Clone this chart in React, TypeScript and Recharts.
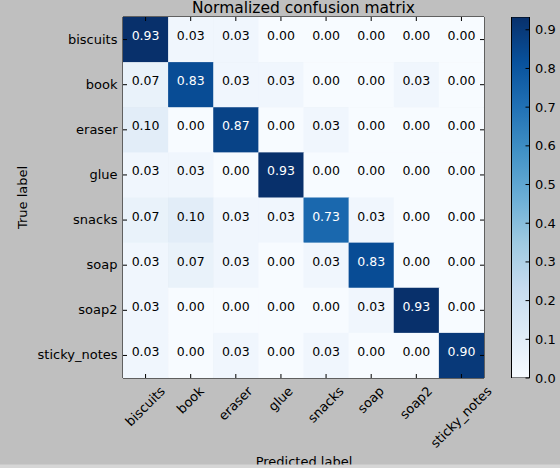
import React from "react";
import { ScatterChart, Scatter, XAxis, YAxis, ReferenceArea, BarChart, Bar } from "recharts";

// class names (rows = true label, columns = predicted label)
const classes = ["biscuits", "book", "eraser", "glue", "snacks", "soap", "soap2", "sticky_notes"];

// normalized rows of the confusion matrix
const biscuits = [0.933, 0.033, 0.033, 0.0, 0.0, 0.0, 0.0, 0.0];
const book = [0.067, 0.833, 0.033, 0.033, 0.0, 0.0, 0.033, 0.0];
const eraser = [0.1, 0.0, 0.867, 0.0, 0.033, 0.0, 0.0, 0.0];
const glue = [0.033, 0.033, 0.0, 0.933, 0.0, 0.0, 0.0, 0.0];
const snacks = [0.067, 0.1, 0.033, 0.033, 0.733, 0.033, 0.0, 0.0];
const soap = [0.033, 0.067, 0.033, 0.0, 0.033, 0.833, 0.0, 0.0];
const soap2 = [0.033, 0.0, 0.0, 0.0, 0.0, 0.033, 0.933, 0.0];
const stickyNotes = [0.033, 0.0, 0.033, 0.0, 0.033, 0.0, 0.0, 0.9];

const rows = [biscuits, book, eraser, glue, snacks, soap, soap2, stickyNotes];
const colorbarTicks = [0, 0.1, 0.2, 0.3, 0.4, 0.5, 0.6, 0.7, 0.8, 0.9];
const vmax = 0.933;

const BLUES = ["#f7fbff", "#deebf7", "#c6dbef", "#9ecae1", "#6baed6", "#4292c6", "#2171b5", "#08519c", "#08306b"];
const FONT = "DejaVu Sans, sans-serif";
const PLOT = 361;
const CELL = PLOT / 8;
const idx = classes.map((_, i) => i);

const cells = rows.flatMap((r, i) => r.map((v, j) => ({ x: j, y: i, v })));

const hex = (h: string) => [1, 3, 5].map((k) => parseInt(h.slice(k, k + 2), 16));
const blues = (t: number) => {
  const p = Math.max(0, Math.min(1, t)) * 8;
  const i = Math.min(7, Math.floor(p));
  const f = p - i;
  const a = hex(BLUES[i]);
  const b = hex(BLUES[i + 1]);
  const c = a.map((va, k) => Math.round(va + (b[k] - va) * f));
  return `rgb(${c[0]},${c[1]},${c[2]})`;
};

const measure = (s: string, size: number) => {
  const ctx = document.createElement("canvas").getContext("2d");
  if (!ctx) return s.length * size * 0.55;
  ctx.font = `${size}px DejaVu Sans`;
  return ctx.measureText(s).width;
};

const CellShape = ({ cx, cy, payload }: any) => (
  <g>
    <rect x={cx - CELL / 2} y={cy - CELL / 2} width={CELL + 0.6} height={CELL + 0.6} fill={blues(payload.v / vmax)} />
    <text
      x={cx}
      y={cy + 0.5}
      textAnchor="middle"
      fontFamily={FONT}
      fontSize={12.5}
      fill={payload.v > vmax / 2 ? "#fff" : "#000"}
    >
      {payload.v.toFixed(2)}
    </text>
  </g>
);

const XTick = ({ x, y, payload }: any) => {
  const name = classes[payload.value];
  const w = measure(name, 13);
  const h = (w + 9) * 0.7071;
  const cy = y + 8 + h / 2;
  return (
    <g>
      <line x1={x} x2={x} y1={y} y2={y - 4} stroke="#000" />
      <line x1={x} x2={x} y1={y - PLOT} y2={y - PLOT + 4} stroke="#000" />
      <text
        x={x}
        y={cy}
        dy={4}
        textAnchor="middle"
        fontFamily={FONT}
        fontSize={13}
        fill="#000"
        transform={`rotate(-45, ${x}, ${cy})`}
      >
        {name}
      </text>
    </g>
  );
};

const YTick = ({ x, y, payload }: any) => (
  <g>
    <line x1={x} x2={x + 4} y1={y} y2={y} stroke="#000" />
    <line x1={x + PLOT} x2={x + PLOT - 4} y1={y} y2={y} stroke="#000" />
    <text x={x - 5.5} y={y + 4} textAnchor="end" fontFamily={FONT} fontSize={13} fill="#000">
      {classes[payload.value]}
    </text>
  </g>
);

const CbTick = ({ x, y, payload }: any) => (
  <g>
    <line x1={x - 4} x2={x} y1={y} y2={y} stroke="#000" />
    <text x={x + 5.5} y={y + 4.5} fontFamily={FONT} fontSize={13} fill="#000">
      {payload.value.toFixed(1)}
    </text>
  </g>
);

export default function App() {
  return (
    <div style={{ position: "absolute", left: 0, top: 0, width: 560, height: 468, background: "#bfbfbf", overflow: "hidden" }}>
      <div style={{ position: "absolute", left: 0, top: 0 }}>
        <ScatterChart width={560} height={468} margin={{ top: 17, right: 76, bottom: 30, left: 23 }}>
          <XAxis
            type="number"
            dataKey="x"
            domain={[-0.5, 7.5]}
            ticks={idx}
            interval={0}
            allowDataOverflow
            axisLine={false}
            tickLine={false}
            tickSize={0}
            tickMargin={0}
            height={60}
            tick={<XTick />}
          />
          <YAxis
            type="number"
            dataKey="y"
            domain={[-0.5, 7.5]}
            ticks={idx}
            interval={0}
            reversed
            allowDataOverflow
            axisLine={false}
            tickLine={false}
            tickSize={0}
            tickMargin={0}
            width={100}
            tick={<YTick />}
          />
          <Scatter data={cells} shape={<CellShape />} isAnimationActive={false} />
          <ReferenceArea x1={-0.5} x2={7.5} y1={-0.5} y2={7.5} fill="none" fillOpacity={0} stroke="#000" strokeWidth={1} />
        </ScatterChart>
      </div>
      <div style={{ position: "absolute", left: 511, top: 0 }}>
        <BarChart width={49} height={468} data={[{ name: "cb", v: vmax }]} margin={{ top: 17, right: 0, bottom: 90, left: 0.5 }} barCategoryGap={0}>
          <defs>
            <linearGradient id="cbGrad" x1="0" y1="1" x2="0" y2="0">
              {BLUES.map((c, i) => (
                <stop key={c} offset={i / 8} stopColor={c} />
              ))}
            </linearGradient>
          </defs>
          <XAxis dataKey="name" hide />
          <YAxis
            orientation="right"
            type="number"
            domain={[0, vmax]}
            ticks={colorbarTicks}
            allowDataOverflow
            axisLine={false}
            tickLine={false}
            tickSize={0}
            tickMargin={0}
            width={30.5}
            tick={<CbTick />}
          />
          <Bar dataKey="v" fill="url(#cbGrad)" stroke="#000" strokeWidth={1} isAnimationActive={false} />
        </BarChart>
      </div>
      <svg width={560} height={468} style={{ position: "absolute", left: 0, top: 0, pointerEvents: "none" }}>
        <text x={303.5} y={13} textAnchor="middle" fontFamily={FONT} fontSize={15.5} fill="#000">
          Normalized confusion matrix
        </text>
        <text x={27} y={197.5} textAnchor="middle" fontFamily={FONT} fontSize={13} fill="#000" transform="rotate(-90, 27, 197.5)">
          True label
        </text>
        <text x={304} y={465.5} textAnchor="middle" fontFamily={FONT} fontSize={13} fill="#000">
          Predicted label
        </text>
        <rect x={0} y={464.5} width={560} height={4} fill="#d6d6d6" />
      </svg>
    </div>
  );
}
